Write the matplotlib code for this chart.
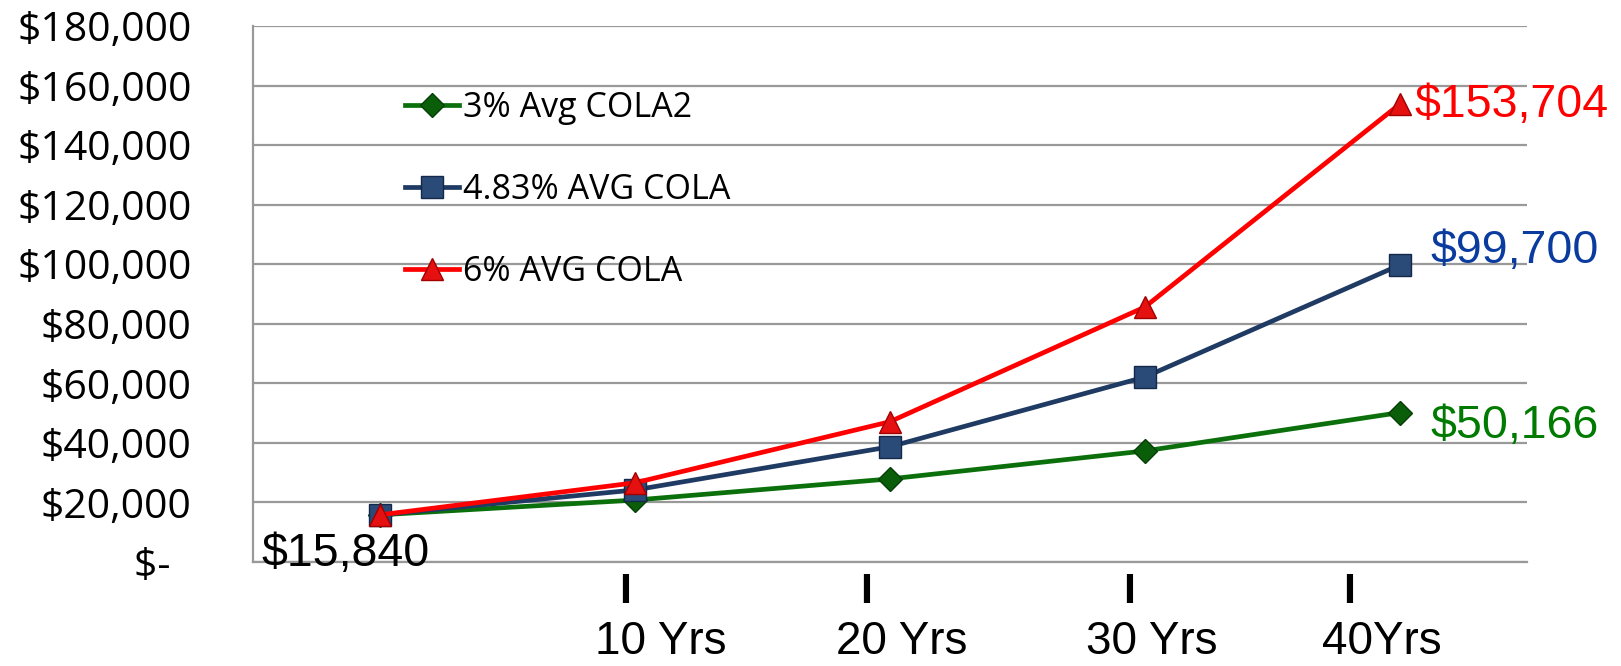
import matplotlib
matplotlib.use("Agg")
import matplotlib.pyplot as plt
from matplotlib.ticker import FuncFormatter, MultipleLocator

# Data
periods = ["Start", "10 Yrs", "20 Yrs", "30 Yrs", "40Yrs"]
cola_3 = [15840, 20800, 27900, 37300, 50166]
cola_483 = [15840, 24200, 38700, 62100, 99700]
cola_6 = [15840, 26600, 47100, 85600, 153704]

series_labels = ["3% Avg COLA2", "4.83% AVG COLA", "6% AVG COLA"]

# x positions (figure pixels) of the hand-placed period labels under the axis
period_label_x = [661, 902, 1152, 1382]
period_mark_x = [625, 866, 1129, 1349]

W, H = 1621, 666
fig = plt.figure(figsize=(W / 100, H / 100), dpi=100)
ax = fig.add_axes([252.7 / W, 1 - 562 / H, (1527 - 252.7) / W, (562 - 26) / H])

x = list(range(len(periods)))
grid_col = "#999999"

ax.plot(x, cola_3, color="#0B700B", lw=3.4, marker="D", markersize=12,
        markerfacecolor="#0A5E0A", markeredgecolor="#063F06", markeredgewidth=1,
        label=series_labels[0], zorder=3)
ax.plot(x, cola_483, color="#1F3B63", lw=3.4, marker="s", markersize=15.5,
        markerfacecolor="#2A4A78", markeredgecolor="#14294A", markeredgewidth=1,
        label=series_labels[1], zorder=4)
ax.plot(x, cola_6, color="#FF0000", lw=3.4, marker="^", markersize=16,
        markerfacecolor="#E51010", markeredgecolor="#A00000", markeredgewidth=1,
        label=series_labels[2], zorder=5)

ax.set_xlim(-0.5, len(periods) - 0.5)
ax.set_ylim(0, 180000)
ax.yaxis.set_major_locator(MultipleLocator(20000))
ax.yaxis.set_major_formatter(FuncFormatter(
    lambda v, pos: "$-  " if v == 0 else f"${v:,.0f}"))
ax.set_xticks([])
ax.tick_params(axis="y", length=0, pad=44, labelsize=29.5,
               labelfontfamily="Open Sans")

ax.grid(axis="y", color=grid_col, lw=1.6)
ax.set_axisbelow(True)
for s in ["top", "right"]:
    ax.spines[s].set_visible(False)
ax.spines["left"].set_color(grid_col)
ax.spines["left"].set_linewidth(1.6)
ax.spines["bottom"].set_color(grid_col)
ax.spines["bottom"].set_linewidth(1.6)

leg = ax.legend(loc="upper left", bbox_to_anchor=(0.1195, 0.878), frameon=False,
                borderpad=0, borderaxespad=0, handlelength=1.6,
                handletextpad=0.1, labelspacing=1.4,
                prop={"family": "Open Sans", "size": 24.5})

# end value labels
end_colors = ["#007A00", "#0A3CA0", "#FF0000"]
end_offsets = [(31, -25), (31, 2), (15, -13)]
for vals, c, off in zip([cola_3, cola_483, cola_6], end_colors, end_offsets):
    ax.annotate(f"${vals[-1]:,.0f}", (x[-1], vals[-1]), xytext=off,
                textcoords="offset pixels", ha="left", va="baseline",
                color=c, fontsize=33.5, family="Liberation Sans",
                annotation_clip=False, zorder=6)
ax.annotate(f"${cola_3[0]:,.0f}", (x[0], cola_3[0]), xytext=(-119, -51),
            textcoords="offset pixels", ha="left", va="baseline",
            color="black", fontsize=33.5, family="Liberation Sans",
            annotation_clip=False, zorder=6)

# period labels with bold bar marks
for lx, mx, name in zip(period_label_x, period_mark_x, periods[1:]):
    fig.text(mx / W, 1 - 603 / H, "I", ha="center", va="baseline",
             fontsize=31, fontweight="bold", family="Liberation Sans")
    fig.text(lx / W, 2 / H, name, ha="center", va="bottom",
             fontsize=33, family="Liberation Sans")

fig.savefig("out.png", dpi=100)
